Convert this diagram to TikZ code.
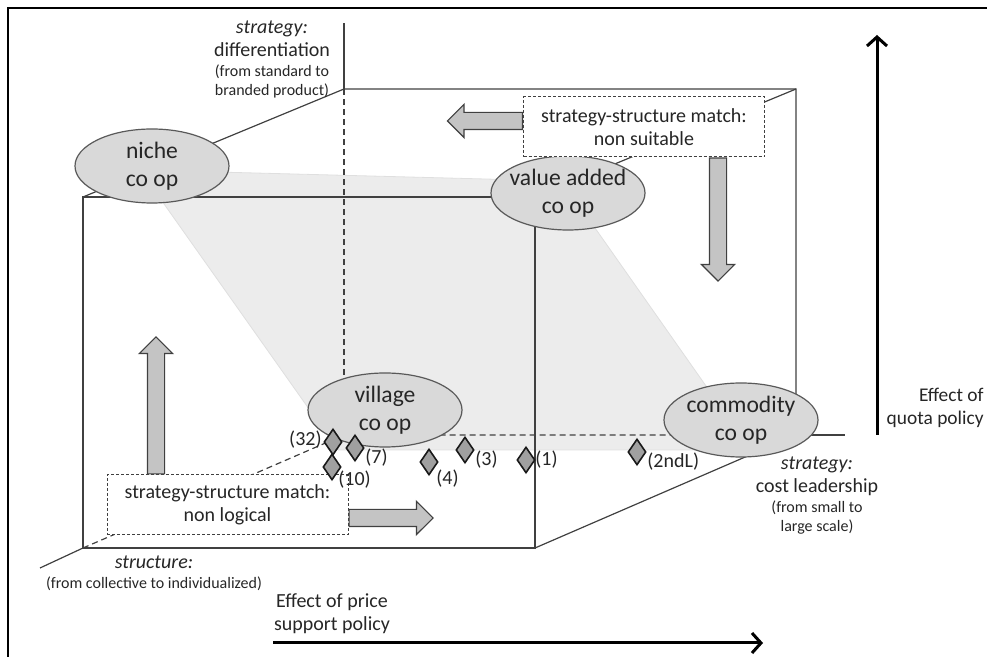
\documentclass[tikz,border=0pt]{standalone}
\usepackage{fontspec}
\setmainfont{Carlito}
\usepackage{tikz}
\usetikzlibrary{calc, positioning, arrows.meta, shapes.geometric, shapes.arrows}
\usepackage{xcolor}
\definecolor{planefill}{RGB}{236, 236, 236}
\definecolor{ovalfill}{RGB}{217, 217, 217}
\definecolor{arrowfill}{RGB}{196, 196, 196}
\definecolor{markfill}{RGB}{160, 160, 160}
\definecolor{inkgray}{RGB}{64, 64, 64}
\newcommand{\notesize}{\fontsize{8}{9.5}\selectfont}

\begin{document}
\begin{tikzpicture}[x=0.5pt, y=-0.5pt, font=\fontsize{10}{11.5}\selectfont, text=black!85,
  cubeline/.style={draw=inkgray, line width=0.6pt},
  hiddenline/.style={cubeline, dash pattern=on 3pt off 2pt},
  coop/.style={ellipse, draw=black!65, fill=ovalfill, line width=0.6pt, minimum width=77pt,
               minimum height=37pt, inner sep=-2.5pt, align=center, font=\fontsize{11.8}{14}\selectfont},
  matchbox/.style={draw=inkgray, line width=0.5pt, dash pattern=on 1.5pt off 1pt, fill=white,
                   minimum width=120.5pt, minimum height=30pt, align=center},
  blockarrow/.style={single arrow, draw=inkgray, fill=arrowfill, line width=0.6pt, inner xsep=0pt,
                     inner ysep=4pt, single arrow head extend=4pt, single arrow tip angle=90},
  obs/.style={diamond, draw=black!90, fill=markfill, line width=0.8pt, minimum width=9pt,
              minimum height=13pt, inner sep=0pt},
  obslbl/.style={font=\fontsize{10}{11}\selectfont, inner sep=0.5pt},
  axislbl/.style={align=center},
  policy/.style={draw=black, line width=1.5pt, -{Straight Barb[length=4.5pt, width=10pt]}}
]
  \useasboundingbox (0,0) rectangle (987,657);
  \draw[line width=1pt] (8,657) -- (8,8) -- (987,8);

  % cube corners, front and back face
  \coordinate (ftl) at (83,197);  \coordinate (ftr) at (535,197);
  \coordinate (fbl) at (83,548);  \coordinate (fbr) at (535,548);
  \coordinate (btl) at (344,89);  \coordinate (btr) at (796,89);
  \coordinate (bbl) at (344,435); \coordinate (bbr) at (796,435);
  \coordinate (diffend) at (344,23);
  \coordinate (costend) at (845,435);
  \coordinate (structend) at (40,568);

  % strategy-structure plane
  \fill[planefill, draw=gray!25] (140,170) -- (562,181) -- (751,450) -- (338,450) -- cycle;

  \draw[cubeline] (fbl) rectangle (ftr);
  \draw[cubeline] (ftl) -- (btl) -- (btr) -- (bbr);
  \draw[cubeline] (ftr) -- (btr);
  \draw[cubeline] (fbr) -- (bbr);
  \draw[hiddenline] (fbl) -- (bbl) -- (bbr);
  \draw[hiddenline] (bbl) -- (btl);
  \draw[cubeline] (btl) -- (diffend);
  \draw[cubeline] (bbr) -- (costend);
  \draw[cubeline] (fbl) -- (structend);

  \node[coop] (niche) at (152,166) {niche\\co op};
  \node[coop] (valadd) at (568,193) {value added\\co op};
  \node[coop] (village) at (385,410) {village\\co op};
  \node[coop] (commod) at (741,420) {commodity\\co op};

  \node[matchbox] (nonsuit) at (644,127) {strategy-structure match:\\non suitable};
  \node[matchbox] (nonlog) at (227.5,505) {strategy-structure match:\\non logical};

  \node[blockarrow, rotate=180, minimum height=37.5pt, anchor=tail] (toleft)
    at ($(nonsuit.west)+(0,-6)$) {};
  \node[blockarrow, rotate=-90, minimum height=61.5pt, anchor=tail] (todown)
    at ($(nonsuit.south)+(74,0)$) {};
  \node[blockarrow, rotate=90, minimum height=68.5pt, anchor=tail] (toup)
    at ($(nonlog.north)+(-71.5,0)$) {};
  \node[blockarrow, minimum height=42pt, anchor=tail] (toright)
    at ($(nonlog.east)+(0,13)$) {};

  % cooperatives
  \foreach \nm/\px/\py/\anc/\dx/\dy in {32/333/442/east/-10/-2, 10/332/467/west/5/13,
      7/355/448/west/9/10, 4/429/462/west/6/17, 3/465/450/west/9/10,
      1/526/460/west/8/0, 2ndL/637/452/west/9/10} {
    \node[obs] (d\nm) at (\px,\py) {};
    \node[obslbl, anchor=\anc] (l\nm) at ($(d\nm)+(\dx,\dy)$) {(\nm)};
  }

  \node[axislbl] (difflbl) at (272,59)
    {\textit{strategy:}\\differentiation\\[-1.5pt]\notesize(from standard to\\[-2pt]\notesize branded product)};
  \node[axislbl] (structlbl) at (154,573)
    {\textit{structure:}\\[-1.5pt]\notesize(from collective to individualized)};
  \node[axislbl] (costlbl) at (817,496)
    {\textit{strategy:}\\cost leadership\\[-1.5pt]\notesize(from small to\\[-2pt]\notesize large scale)};

  \coordinate (quotabase) at (877,435);
  \coordinate (quotatip) at (877,35);
  \coordinate (pricebase) at (273,643);
  \coordinate (pricetip) at (763,643);
  \draw[policy] (quotabase) -- (quotatip);
  \draw[policy] (pricebase) -- (pricetip);
  \node[align=right, anchor=east, inner sep=0pt, font=\fontsize{9.7}{11.2}\selectfont] (quotalbl)
    at (984,408) {Effect of\\quota policy};
  \node[align=center] (pricelbl) at (332,614) {Effect of price\\support policy};
\end{tikzpicture}
\end{document}
